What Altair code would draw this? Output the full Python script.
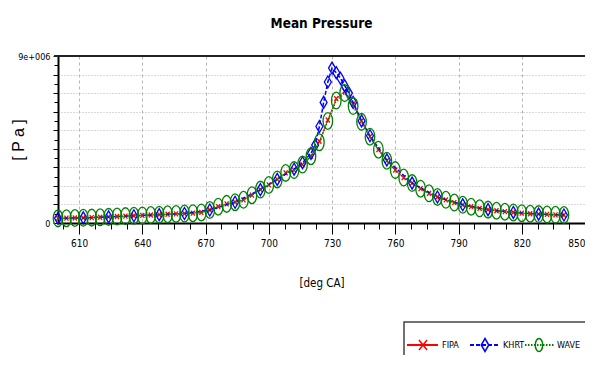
import altair as alt
import pandas as pd

# ---------------- data (pressure in MPa) ----------------
angles = [600, 604, 608, 612, 616, 620, 624, 628, 632, 636,
          640, 644, 648, 652, 656, 660, 664, 668, 672, 676,
          680, 684, 688, 692, 696, 700, 704, 708, 712, 716,
          720, 724, 728, 732, 736, 740, 744, 748, 752, 756,
          760, 764, 768, 772, 776, 780, 784, 788, 792, 796,
          800, 804, 808, 812, 816, 820, 824, 828, 832, 836, 840]

wave = [0.25, 0.26, 0.27, 0.28, 0.29, 0.31, 0.33, 0.35, 0.37, 0.39,
        0.41, 0.43, 0.45, 0.47, 0.49, 0.51, 0.53, 0.57, 0.70, 0.88,
        1.03, 1.12, 1.25, 1.50, 1.80, 2.05, 2.35, 2.70, 2.85, 3.15,
        3.60, 4.35, 5.50, 6.60, 7.00, 6.30, 5.45, 4.65, 3.95, 3.35,
        2.85, 2.45, 2.15, 1.85, 1.60, 1.40, 1.25, 1.10, 0.98, 0.88,
        0.79, 0.72, 0.66, 0.61, 0.57, 0.53, 0.50, 0.48, 0.46, 0.44, 0.43]

fipa = [0.25, 0.26, 0.27, 0.28, 0.29, 0.31, 0.33, 0.35, 0.37, 0.39,
        0.41, 0.43, 0.45, 0.47, 0.49, 0.51, 0.53, 0.57, 0.70, 0.88,
        1.03, 1.12, 1.25, 1.50, 1.80, 2.05, 2.35, 2.70, 2.85, 3.15,
        3.60, 4.40, 5.55, 6.70, 7.10, 6.40, 5.50, 4.65, 3.95, 3.35,
        2.85, 2.45, 2.15, 1.85, 1.60, 1.40, 1.25, 1.10, 0.98, 0.88,
        0.79, 0.72, 0.66, 0.61, 0.57, 0.53, 0.50, 0.48, 0.46, 0.44, 0.43]

khrt_angles = [600, 612, 624, 636, 648, 660, 672, 684, 696, 704,
               712, 716, 720, 722, 724, 726, 728, 730, 732, 734,
               736, 738, 740, 744, 748, 756, 768, 780, 792, 804,
               816, 828, 840]
khrt = [0.25, 0.28, 0.33, 0.39, 0.45, 0.51, 0.70, 1.12, 1.80, 2.35,
        2.90, 3.25, 3.75, 4.20, 5.20, 6.50, 7.60, 8.35, 8.10, 7.80,
        7.40, 7.00, 6.50, 5.50, 4.70, 3.40, 2.15, 1.40, 0.98, 0.72,
        0.57, 0.48, 0.43]

series_names = ["FIPA", "KHRT", "WAVE"]
x_major = [610, 640, 670, 700, 730, 760, 790, 820, 850]
x_minor = [602.5, 610, 617.5, 625, 632.5, 640, 647.5, 655, 662.5, 670, 677.5,
           685, 692.5, 700, 707.5, 715, 722.5, 730, 737.5, 745, 752.5, 760,
           767.5, 775, 782.5, 790, 797.5, 805, 812.5, 820, 827.5, 835, 842.5, 850]
y_major = [0, 1e6, 2e6, 3e6, 4e6, 5e6, 6e6, 7e6, 8e6, 9e6]
y_minor = [0, 0.5e6, 1e6, 1.5e6, 2e6, 2.5e6, 3e6, 3.5e6, 4e6, 4.5e6, 5e6,
           5.5e6, 6e6, 6.5e6, 7e6, 7.5e6, 8e6, 8.5e6, 9e6]

# ---------------- styling ----------------
NARROW = "Liberation Sans Narrow, Arial Narrow, DejaVu Sans Condensed, sans-serif"
REG = "Liberation Sans, Arial, sans-serif"
W, H = 527, 167

colors = {"FIPA": "#ff0000", "KHRT": "#0000ff", "WAVE": "#008000"}
dashes = {"FIPA": [1, 0], "KHRT": [4, 2], "WAVE": [1.5, 1.5]}
widths = {"FIPA": 1, "KHRT": 1.5, "WAVE": 1.5}
shapes = {
    "FIPA": "M-0.8,-1L0.8,1M-0.8,1L0.8,-1",
    "KHRT": "M0,-1L0.58,0L0,1L-0.58,0Z",
    "WAVE": "M0,-1A0.57,1 0 1,1 0,1A0.57,1 0 1,1 0,-1Z",
}
sizes = {"FIPA": 25, "KHRT": 144, "WAVE": 280}
legend_sizes = {"FIPA": 100, "KHRT": 169, "WAVE": 169}

series_x = {"FIPA": angles, "KHRT": khrt_angles, "WAVE": angles}
values = {"FIPA": fipa, "KHRT": khrt, "WAVE": wave}
frames = {}
for name in series_names:
    frames[name] = pd.DataFrame({
        "angle": series_x[name],
        "p": [v * 1e6 for v in values[name]],
        "series": name,
    })

xs = alt.Scale(domain=[600, 850], nice=False, zero=False)
ys = alt.Scale(domain=[0, 9e6], nice=False, zero=True)

main_x_axis = alt.Axis(
    values=x_major, title="[deg CA]", tickSize=11, tickColor="black", tickWidth=1,
    domainColor="black", domainWidth=2, labelFont=NARROW, labelFontSize=10,
    labelColor="black", labelPadding=4, labelFlush=True, labelOverlap=False,
    grid=True, gridColor="#b5b5b5", gridDash=[3, 3], gridWidth=1,
    titleFont=NARROW, titleFontSize=11.5, titleFontWeight="normal", titleColor="black",
    titleX=W / 2, titleY=54, orient="bottom",
)
main_y_axis = alt.Axis(
    values=y_major, title="[ P a ]", tickSize=5, tickColor="black",
    domainColor="black", domainWidth=2, labelFont=NARROW, labelFontSize=9,
    labelColor="black", labelPadding=3, labelOverlap=False,
    labelExpr="datum.value == 0 ? '0' : (datum.value == 9000000 ? '9e+006' : '')",
    grid=True, gridColor="#b5b5b5", gridDash=[1, 2], gridWidth=1,
    titleFont=REG, titleFontSize=16, titleFontWeight="normal", titleColor="black",
    titleX=-32, titleY=H / 2, orient="left",
)
minor_x_axis = alt.Axis(
    values=x_minor, tickSize=6, tickColor="black", labels=False, domain=False,
    grid=False, title=None, orient="bottom",
)
minor_y_axis = alt.Axis(
    values=y_minor, tickSize=4, tickColor="black", labels=False, domain=False,
    grid=False, title=None, orient="left",
)

layers = []
for i, name in enumerate(series_names):
    if i == 0:
        xa, ya = main_x_axis, main_y_axis
        xb, yb = minor_x_axis, minor_y_axis
    else:
        xa = ya = xb = yb = None
    line = alt.Chart(frames[name]).mark_line(
        color=colors[name], strokeDash=dashes[name], strokeWidth=widths[name]
    ).encode(
        x=alt.X("angle:Q", scale=xs, axis=xa),
        y=alt.Y("p:Q", scale=ys, axis=ya),
    )
    pts = alt.Chart(frames[name]).mark_point(
        shape=shapes[name], filled=False, size=sizes[name],
        color=colors[name], strokeWidth=1.3, opacity=1,
    ).encode(
        x=alt.X("angle:Q", scale=xs, axis=xb),
        y=alt.Y("p:Q", scale=ys, axis=yb),
    )
    layers += [line, pts]

# top border of plot frame
top_line = alt.Chart(alt.Data(values=[{"a": 1}])).mark_rule(
    color="#222222", strokeWidth=2
).encode(x=alt.value(-4), x2=alt.value(W + 2), y=alt.value(0))
layers.append(top_line)

# ---------------- manual legend ----------------
legend_box = alt.Chart(alt.Data(values=[{"a": 1}])).mark_rect(
    fill="white", fillOpacity=0, stroke="#444444", strokeWidth=1.5
).encode(x=alt.value(346), x2=alt.value(W + 60), y=alt.value(266), y2=alt.value(400))
layers.append(legend_box)

leg_y = 289
leg_pos = {"FIPA": (349, 380, 365, 384), "KHRT": (412, 442, 427, 445), "WAVE": (467, 496, 481, 499)}
for name in series_names:
    x0, x1, xc, tx = leg_pos[name]
    d = alt.Data(values=[{"series": name}])
    layers.append(alt.Chart(d).mark_rule(
        color=colors[name], strokeDash=dashes[name], strokeWidth=2
    ).encode(x=alt.value(x0), x2=alt.value(x1), y=alt.value(leg_y)))
    layers.append(alt.Chart(d).mark_point(
        shape=shapes[name], filled=False, size=legend_sizes[name],
        color=colors[name], strokeWidth=1.5, opacity=1,
    ).encode(x=alt.value(xc), y=alt.value(leg_y)))
    layers.append(alt.Chart(d).mark_text(
        align="left", baseline="middle", font=NARROW, fontSize=9, color="black"
    ).encode(x=alt.value(tx), y=alt.value(leg_y), text="series:N"))

chart = alt.layer(*layers).resolve_axis(
    x="independent", y="independent"
).properties(
    width=W, height=H,
    title=alt.TitleParams("Mean Pressure", font=NARROW, fontSize=13.5,
                          fontWeight="bold", anchor="middle", offset=22,
                          color="black"),
    autosize=alt.AutoSizeParams(type="none"),
    padding={"left": 50, "top": 48, "right": 0, "bottom": 132},
    background="white",
).configure_view(stroke=None)

chart.save("out.html", embed_options={"renderer": "svg", "actions": False})
